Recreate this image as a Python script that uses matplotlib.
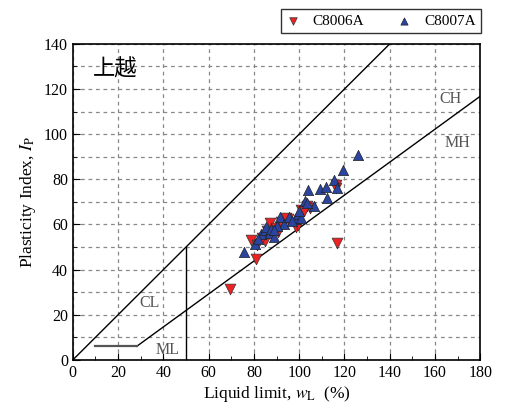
import numpy as np
import matplotlib.pyplot as plt
from matplotlib.ticker import MultipleLocator

plt.rcParams['font.family'] = ['Liberation Serif', 'DejaVu Serif']
plt.rcParams['mathtext.fontset'] = 'stix'

# C8006A (red, down triangles)
wl_06 = [69.4, 78.5, 81.0, 81.5, 84.7, 87.3, 89.8, 90.5, 95.2, 98.5, 99.3,
         100.7, 103.6, 105.0, 116.5, 116.5, 116.8, 83.5, 86.0, 92.0, 94.0, 102.0]
ip_06 = [31.5, 53.1, 44.9, 50.9, 52.7, 60.5, 58.3, 56.5, 62.5, 59.0, 59.8,
         66.5, 68.0, 67.5, 77.4, 76.0, 52.0, 54.0, 57.0, 61.0, 63.0, 66.0]

# C8007A (blue, up triangles)
wl_07 = [75.6, 80.3, 83.2, 84.7, 86.9, 88.8, 91.7, 93.4, 98.0, 99.5, 101.0,
         102.6, 104.1, 106.6, 109.2, 111.7, 112.4, 115.6, 116.6, 119.4, 125.9,
         85.5, 87.5, 90.0, 95.5, 97.0, 100.0, 103.5, 82.0, 89.0]
ip_07 = [47.6, 51.2, 55.6, 57.6, 56.1, 54.6, 63.5, 60.1, 62.5, 64.5, 63.0,
         70.5, 75.1, 68.4, 75.7, 76.5, 71.7, 79.9, 76.1, 84.3, 90.6,
         59.0, 58.0, 59.5, 63.5, 61.5, 66.0, 69.5, 53.5, 57.5]

fig = plt.figure(figsize=(5.06, 4.03), dpi=100)
ax = fig.add_axes([0.144, 0.107, 0.805, 0.784])

# classification lines
ax.plot([0, 140], [0, 140], color='black', lw=1.0)
wa = np.array([28.2, 180])
ax.plot(wa, 0.73 * (wa - 20), color='black', lw=1.0)
ax.plot([50, 50], [0, 50], color='black', lw=1.0)
ax.plot([10, 28.2], [6, 6], color='#555555', lw=1.6)

ax.scatter(wl_06, ip_06, marker='v', s=60, color='#ee2222', edgecolors='#333333',
           linewidths=0.5, zorder=3, label='C8006A')
ax.scatter(wl_07, ip_07, marker='^', s=55, color='#2a44a0', edgecolors='#222222',
           linewidths=0.5, zorder=3, label='C8007A')

tc = '#555555'
ax.text(34, 25, 'CL', color=tc, fontsize=11.5, ha='center', va='center')
ax.text(42, 4.5, 'ML', color=tc, fontsize=11.5, ha='center', va='center')
ax.text(167, 115.5, 'CH', color=tc, fontsize=11.5, ha='center', va='center')
ax.text(170, 96, 'MH', color=tc, fontsize=11.5, ha='center', va='center')
ax.text(9, 129, '上越', fontsize=16, ha='left', va='center',
        family=['Noto Sans CJK JP', 'DejaVu Sans'])

ax.set_xlim(0, 180)
ax.set_ylim(0, 140)
ax.xaxis.set_major_locator(MultipleLocator(20))
ax.yaxis.set_major_locator(MultipleLocator(20))
ax.yaxis.set_minor_locator(MultipleLocator(10))
ax.xaxis.set_minor_locator(MultipleLocator(10))
ax.tick_params(which='both', direction='in', labelsize=11.5)
ax.tick_params(which='major', length=5)
ax.tick_params(which='minor', length=3)
ax.grid(which='major', axis='x', color='#888888', ls=(0, (3, 3)), lw=0.9)
ax.grid(which='both', axis='y', color='#888888', ls=(0, (3, 3)), lw=0.9)
ax.set_axisbelow(True)
for sp in ax.spines.values():
    sp.set_linewidth(1.2)

ax.set_xlabel(r'Liquid limit, $w_\mathrm{L}$  (%)', fontsize=12.5, labelpad=2)
ax.set_ylabel(r'Plasticity Index, $I_\mathrm{P}$', fontsize=12.5, labelpad=4)

leg = ax.legend(loc='lower left', bbox_to_anchor=(0.512, 1.034, 0.49, 0.089),
                ncol=2, mode='expand', fontsize=11, frameon=True, fancybox=False,
                edgecolor='black', handlelength=0.8, handletextpad=0.9,
                borderaxespad=0, borderpad=0.35, scatterpoints=1, markerscale=0.7)
leg.get_frame().set_linewidth(1.0)

fig.savefig('out.png', dpi=100)
